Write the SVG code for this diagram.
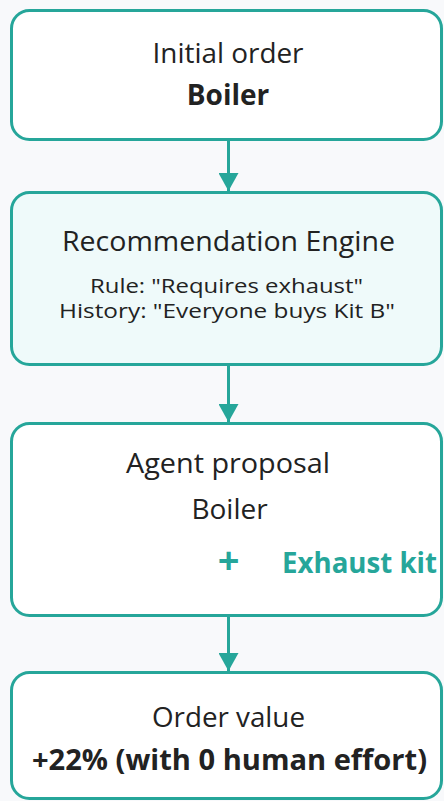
<svg xmlns="http://www.w3.org/2000/svg" width="444" height="801" viewBox="0 0 444 801">
  <defs>
    <marker id="arrow" viewBox="0 0 18 20" refX="18" refY="10" markerWidth="18" markerHeight="20" markerUnits="userSpaceOnUse" orient="auto">
      <path d="M0,0 L18,10 L0,20 Z" fill="#26a69a"/>
    </marker>
    <style>
      .box { fill: #ffffff; stroke: #26a69a; stroke-width: 3; }
      .box.tint { fill: #effafa; }
      .edge { stroke: #26a69a; stroke-width: 3; fill: none; }
      text { font-family: "Open Sans", "Noto Sans", sans-serif; fill: #222222; text-anchor: middle; }
      .title { font-size: 28px; }
      .sub { font-size: 20px; }
      .strong { font-weight: 700; }
      .accent { fill: #26a69a; font-weight: 700; }
    </style>
  </defs>
  <rect width="444" height="801" fill="#f8f9fb"/>

  <g id="connectors">
    <line class="edge" x1="228.5" y1="141" x2="228.5" y2="191" marker-end="url(#arrow)"/>
    <line class="edge" x1="228.5" y1="366" x2="228.5" y2="422" marker-end="url(#arrow)"/>
    <line class="edge" x1="228.5" y1="617" x2="228.5" y2="671" marker-end="url(#arrow)"/>
  </g>

  <g id="initial-order">
    <rect class="box" x="11.5" y="10.5" width="430" height="129" rx="18"/>
    <text class="title" x="228" y="63" textLength="151" lengthAdjust="spacingAndGlyphs">Initial order</text>
    <text class="title strong" x="228" y="105">Boiler</text>
  </g>

  <g id="recommendation-engine">
    <rect class="box tint" x="11.5" y="192.5" width="430" height="172" rx="18"/>
    <text class="title" x="228.5" y="251" textLength="333" lengthAdjust="spacingAndGlyphs">Recommendation Engine</text>
    <text class="sub" x="226.5" y="293" textLength="273" lengthAdjust="spacingAndGlyphs">Rule: "Requires exhaust"</text>
    <text class="sub" x="227" y="318" textLength="336" lengthAdjust="spacingAndGlyphs">History: "Everyone buys Kit B"</text>
  </g>

  <g id="agent-proposal">
    <rect class="box" x="11.5" y="423.5" width="430" height="192" rx="18"/>
    <text class="title" x="228" y="473" textLength="204" lengthAdjust="spacingAndGlyphs">Agent proposal</text>
    <text class="title" x="229.5" y="519">Boiler</text>
    <text class="accent" x="228.5" y="574" style="font-size:38px">+</text>
    <text class="title accent" x="282" y="573" style="text-anchor:start" textLength="155" lengthAdjust="spacingAndGlyphs">Exhaust kit</text>
  </g>

  <g id="order-value">
    <rect class="box" x="11.5" y="672.5" width="430" height="126" rx="18"/>
    <text class="title" x="228.5" y="727" textLength="153" lengthAdjust="spacingAndGlyphs">Order value</text>
    <text class="title strong" x="229.5" y="770" textLength="395" lengthAdjust="spacingAndGlyphs">+22% (with 0 human effort)</text>
  </g>
</svg>
